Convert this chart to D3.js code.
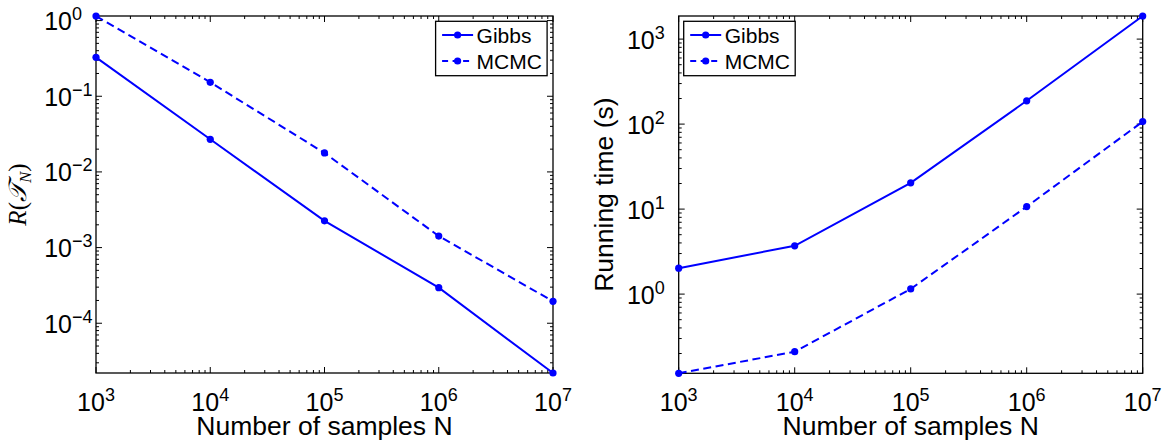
<!DOCTYPE html>
<html>
<head>
<meta charset="utf-8">
<script src="https://cdn.jsdelivr.net/npm/d3@7/dist/d3.min.js"></script>
<style>
  body { margin: 0; background: #fff; }
  svg { display: block; }
  text { font-family: "Liberation Sans", Arial, Helvetica, sans-serif; fill: #000; }
</style>
</head>
<body>
<svg id="fig" width="1172" height="443"></svg>
<script>
// Sample sizes N (x axis of both panels)
const sampleSizes = [1e3, 1e4, 1e5, 1e6, 1e7];

// Left panel: risk R(T_N)
const riskGibbs = [0.327, 0.027, 0.00226, 0.000295, 0.000022];
const riskMCMC  = [1.15, 0.153, 0.0178, 0.00142, 0.000195];

// Right panel: running time in seconds
const timeGibbs = [2.02, 3.7, 20.4, 188, 1870];
const timeMCMC  = [0.117, 0.21, 1.15, 10.7, 107];

// Decade tick labels (exponents of 10)
const xTickExponents    = [3, 4, 5, 6, 7];
const riskTickExponents = [0, -1, -2, -3, -4];
const timeTickExponents = [0, 1, 2, 3];

const seriesNames = ["Gibbs", "MCMC"];
const xLabel = "Number of samples N";
const timeLabel = "Running time (s)";

const BLUE = "#0000ff";
const svg = d3.select("#fig");

function expText(e) { return e < 0 ? "\u2212" + Math.abs(e) : String(e); }

function minorValues(domain) {
  const out = [];
  const lo = Math.floor(Math.log10(domain[0]));
  const hi = Math.ceil(Math.log10(domain[1]));
  for (let e = lo; e <= hi; e++) {
    for (let k = 1; k <= 9; k++) {
      const v = k * Math.pow(10, e);
      if (v >= domain[0] * 0.9999 && v <= domain[1] * 1.0001) out.push({ v, major: k === 1 });
    }
  }
  return out;
}

function drawPanel(opt) {
  const { left, right, top, bottom, gibbs, mcmc, yExps, legendX, yLabel } = opt;
  const g = svg.append("g");

  const x = d3.scaleLog().domain(d3.extent(sampleSizes)).range([left, right]);
  const allY = gibbs.concat(mcmc);
  const y = d3.scaleLog().domain(d3.extent(allY)).range([bottom, top]);

  // frame
  g.append("rect")
    .attr("x", left).attr("y", top)
    .attr("width", right - left).attr("height", bottom - top)
    .attr("fill", "none").attr("stroke", "#000").attr("stroke-width", 1.3);

  // ticks on all four sides, pointing inward
  const tickG = g.append("g").attr("stroke", "#000").attr("stroke-width", 1);
  minorValues(x.domain()).forEach(t => {
    const len = t.major ? 6 : 3;
    const px = x(t.v);
    tickG.append("line").attr("x1", px).attr("x2", px).attr("y1", bottom).attr("y2", bottom - len);
    tickG.append("line").attr("x1", px).attr("x2", px).attr("y1", top).attr("y2", top + len);
  });
  minorValues(y.domain()).forEach(t => {
    const len = t.major ? 6 : 3;
    const py = y(t.v);
    tickG.append("line").attr("y1", py).attr("y2", py).attr("x1", left).attr("x2", left + len);
    tickG.append("line").attr("y1", py).attr("y2", py).attr("x1", right).attr("x2", right - len);
  });

  // x tick labels
  xTickExponents.forEach(e => {
    const t = g.append("text")
      .attr("x", x(Math.pow(10, e))).attr("y", bottom + 38)
      .attr("text-anchor", "middle").style("font-size", "25px");
    t.append("tspan").text("10");
    t.append("tspan").attr("dy", -10).style("font-size", "18px").text(expText(e));
  });

  // y tick labels
  yExps.forEach(e => {
    const py = y(Math.pow(10, e)) + 9.5;
    g.append("text").attr("x", left - 24).attr("y", py)
      .attr("text-anchor", "end").style("font-size", "25px").text("10");
    g.append("text").attr("x", left - 24).attr("y", py - 10)
      .attr("text-anchor", "start").style("font-size", "18px").text(expText(e));
  });

  // x axis label
  g.append("text")
    .attr("x", (left + right) / 2).attr("y", 435)
    .attr("text-anchor", "middle").style("font-size", "26.5px").text(xLabel);

  yLabel(g, (top + bottom) / 2);

  // series
  const line = d3.line().x((d, i) => x(sampleSizes[i])).y(d => y(d));
  const series = [
    { vals: gibbs, dash: null },
    { vals: mcmc, dash: "8,4.5" }
  ];
  series.forEach(s => {
    g.append("path").attr("d", line(s.vals))
      .attr("fill", "none").attr("stroke", BLUE).attr("stroke-width", 2)
      .attr("stroke-dasharray", s.dash);
    g.selectAll(null).data(s.vals).enter().append("circle")
      .attr("cx", (d, i) => x(sampleSizes[i])).attr("cy", d => y(d))
      .attr("r", 3.6).attr("fill", BLUE);
  });

  // legend
  const lg = g.append("g").attr("transform", `translate(${legendX},21.3)`);
  lg.append("rect").attr("width", 111.5).attr("height", 54.4)
    .attr("fill", "#fff").attr("stroke", "#000").attr("stroke-width", 1.3);
  series.forEach((s, i) => {
    const ry = 13.7 + i * 26;
    lg.append("line").attr("x1", 6.5).attr("x2", 37.5).attr("y1", ry).attr("y2", ry)
      .attr("stroke", BLUE).attr("stroke-width", 2).attr("stroke-dasharray", s.dash ? "6,4.5" : null);
    lg.append("circle").attr("cx", 22).attr("cy", ry).attr("r", 3.6).attr("fill", BLUE);
    lg.append("text").attr("x", 41).attr("y", ry + 8)
      .style("font-size", "21px").text(seriesNames[i]);
  });
}

// Left panel: R(T_N) vs N
drawPanel({
  left: 96, right: 553, top: 16, bottom: 373,
  gibbs: riskGibbs, mcmc: riskMCMC, yExps: riskTickExponents,
  legendX: 435.6,
  yLabel: (g, cy) => {
    const t = g.append("text")
      .attr("transform", `translate(26,${cy}) rotate(-90)`)
      .attr("text-anchor", "middle")
      .style("font-family", "'Liberation Serif', 'DejaVu Serif', serif")
      .style("font-size", "25px");
    t.append("tspan").style("font-style", "italic").text("R");
    t.append("tspan").text("(");
    t.append("tspan").style("font-style", "italic").text("\u{1D4AF}");
    t.append("tspan").attr("dy", 5).style("font-style", "italic").style("font-size", "17px").text("N");
    t.append("tspan").attr("dy", -5).text(")");
  }
});

// Right panel: running time vs N
drawPanel({
  left: 678.7, right: 1142.7, top: 16, bottom: 373.3,
  gibbs: timeGibbs, mcmc: timeMCMC, yExps: timeTickExponents,
  legendX: 683.7,
  yLabel: (g, cy) => {
    g.append("text")
      .attr("transform", `translate(613,${cy}) rotate(-90)`)
      .attr("text-anchor", "middle").style("font-size", "26.5px").text(timeLabel);
  }
});
</script>
</body>
</html>
